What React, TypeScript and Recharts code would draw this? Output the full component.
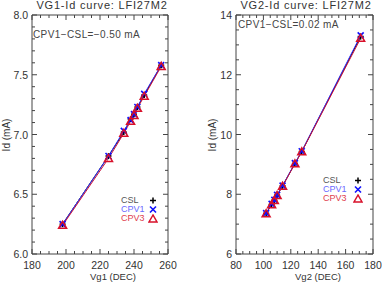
import React from 'react';
import { ComposedChart, Line, XAxis, YAxis, Legend } from 'recharts';

// ---- Left panel data (VG1) ----
const vg1 = [198, 225, 234, 238, 240, 242, 246, 256];
const csl1 = [6.25, 6.82, 7.02, 7.13, 7.17, 7.23, 7.33, 7.58];
const cpv1a = [6.25, 6.82, 7.03, 7.12, 7.17, 7.23, 7.34, 7.58];
const cpv3a = [6.24, 6.8, 7.01, 7.11, 7.16, 7.22, 7.32, 7.57];

// ---- Right panel data (VG2) ----
const vg2 = [102, 106, 108, 110, 114, 123, 128, 171];
const csl2 = [7.36, 7.66, 7.8, 7.97, 8.28, 9.03, 9.43, 13.28];
const cpv1b = [7.37, 7.68, 7.81, 7.98, 8.29, 9.04, 9.44, 13.32];
const cpv3b = [7.35, 7.65, 7.79, 7.96, 8.27, 9.02, 9.42, 13.22];

// ---- Tick labels ----
const xMajor1 = [180, 200, 220, 240, 260];
const yMajor1 = [6.0, 6.5, 7.0, 7.5, 8.0];
const xMajor2 = [80, 100, 120, 140, 160, 180];
const yMajor2 = [6, 8, 10, 12, 14];

const seriesNames = ['CSL', 'CPV1', 'CPV3'];
const seriesLineColors = ['#000000', '#3030ff', '#c8103a'];
const legendTextColors = ['#555555', '#6a6aff', '#e0404f'];

const FONT = '"Liberation Sans", Arial, sans-serif';
const AXIS = '#444444';

const range = (a: number, b: number, step: number) => {
  const out: number[] = [];
  const n = Math.round((b - a) / step);
  for (let i = 0; i <= n; i++) out.push(Math.round((a + i * step) * 1000) / 1000);
  return out;
};

const build = (xs: number[], a: number[], b: number[], c: number[]) =>
  xs.map((x, i) => ({ x, csl: a[i], cpv1: b[i], cpv3: c[i] }));

const isMajor = (majors: number[], v: number) => majors.some((m) => Math.abs(m - v) < 1e-6);

const makeTick = (side: string, majors: number[], fmt: (v: number) => string, label: boolean) =>
  (props: any) => {
    const { x, y, payload } = props;
    const v = payload.value;
    const major = isMajor(majors, v);
    const len = major ? 5 : 3;
    let ln: any = null;
    let txt: any = null;
    if (side === 'bottom') {
      ln = <line x1={x} y1={y} x2={x} y2={y - len} stroke={AXIS} />;
      if (label && major)
        txt = (
          <text x={x} y={y + 14.5} textAnchor="middle" fontSize={10.5} fontFamily={FONT} fill="#333">
            {fmt(v)}
          </text>
        );
    } else if (side === 'top') {
      ln = <line x1={x} y1={y} x2={x} y2={y + len} stroke={AXIS} />;
    } else if (side === 'left') {
      ln = <line x1={x} y1={y} x2={x + len} y2={y} stroke={AXIS} />;
      if (label && major)
        txt = (
          <text x={x - 4} y={y + 4} textAnchor="end" fontSize={10.5} fontFamily={FONT} fill="#333">
            {fmt(v)}
          </text>
        );
    } else {
      ln = <line x1={x} y1={y} x2={x - len} y2={y} stroke={AXIS} />;
    }
    return (
      <g>
        {ln}
        {txt}
      </g>
    );
  };

const PlusDot = (p: any) => {
  const { cx, cy } = p;
  if (cx == null || cy == null) return null;
  return (
    <g>
      <line x1={cx - 3} y1={cy} x2={cx + 3} y2={cy} stroke="#000" strokeWidth={1.5} />
      <line x1={cx} y1={cy - 3} x2={cx} y2={cy + 3} stroke="#000" strokeWidth={1.5} />
    </g>
  );
};
const CrossDot = (p: any) => {
  const { cx, cy } = p;
  if (cx == null || cy == null) return null;
  return (
    <g>
      <line x1={cx - 3} y1={cy - 3} x2={cx + 3} y2={cy + 3} stroke="#1010ff" strokeWidth={1.6} />
      <line x1={cx - 3} y1={cy + 3} x2={cx + 3} y2={cy - 3} stroke="#1010ff" strokeWidth={1.6} />
    </g>
  );
};
const TriDot = (p: any) => {
  const { cx, cy } = p;
  if (cx == null || cy == null) return null;
  return (
    <polygon
      points={`${cx},${cy - 4} ${cx - 4},${cy + 3} ${cx + 4},${cy + 3}`}
      fill="none"
      stroke="#d8102a"
      strokeWidth={1.5}
    />
  );
};
const dots = [PlusDot, CrossDot, TriDot];
const keys = ['csl', 'cpv1', 'cpv3'];

const LegendSym = ({ i }: { i: number }) => {
  const c = 5;
  return (
    <svg width={10} height={9} style={{ display: 'block' }}>
      {i === 0 && <PlusDot cx={c} cy={4.5} />}
      {i === 1 && <CrossDot cx={c} cy={4.5} />}
      {i === 2 && <TriDot cx={c} cy={5} />}
    </svg>
  );
};

const makeLegend = (symGap: number) => () => (
  <div style={{ fontFamily: FONT, fontSize: 9, lineHeight: '9px' }}>
    {seriesNames.map((n, i) => (
      <div key={n} style={{ display: 'flex', alignItems: 'center', height: 9 }}>
        <span style={{ color: legendTextColors[i], width: symGap, display: 'inline-block', lineHeight: '9px' }}>{n}</span>
        <LegendSym i={i} />
      </div>
    ))}
  </div>
);

type PanelProps = {
  data: any[];
  xDomain: [number, number];
  yDomain: [number, number];
  xMajor: number[];
  yMajor: number[];
  xStep: number;
  yStep: number;
  yFmt: (v: number) => string;
  margin: { top: number; bottom: number; left: number; right: number };
  legendPos: { left: number; top: number };
  symGap: number;
};

const Panel = (p: PanelProps) => {
  const xTicks = range(p.xDomain[0], p.xDomain[1], p.xStep);
  const yTicks = range(p.yDomain[0], p.yDomain[1], p.yStep);
  const xf = (v: number) => String(v);
  return (
    <ComposedChart width={191} height={282} data={p.data} margin={p.margin}>
      <XAxis
        xAxisId="b"
        dataKey="x"
        type="number"
        domain={p.xDomain}
        ticks={xTicks}
        interval={0}
        height={1}
        tickSize={0}
        tickMargin={0}
        tickLine={false}
        axisLine={{ stroke: AXIS }}
        tick={makeTick('bottom', p.xMajor, xf, true)}
        allowDataOverflow
      />
      <XAxis
        xAxisId="t"
        orientation="top"
        dataKey="x"
        type="number"
        domain={p.xDomain}
        ticks={xTicks}
        interval={0}
        height={1}
        tickSize={0}
        tickMargin={0}
        tickLine={false}
        axisLine={{ stroke: AXIS }}
        tick={makeTick('top', p.xMajor, xf, false)}
        allowDataOverflow
      />
      <YAxis
        yAxisId="l"
        type="number"
        domain={p.yDomain}
        ticks={yTicks}
        interval={0}
        width={1}
        tickSize={0}
        tickMargin={0}
        tickLine={false}
        axisLine={{ stroke: AXIS }}
        tick={makeTick('left', p.yMajor, p.yFmt, true)}
        allowDataOverflow
      />
      <YAxis
        yAxisId="r"
        orientation="right"
        type="number"
        domain={p.yDomain}
        ticks={yTicks}
        interval={0}
        width={1}
        tickSize={0}
        tickMargin={0}
        tickLine={false}
        axisLine={{ stroke: AXIS }}
        tick={makeTick('right', p.yMajor, p.yFmt, false)}
        allowDataOverflow
      />
      {keys.map((k, i) => (
        <Line
          key={k}
          xAxisId="b"
          yAxisId="l"
          dataKey={k}
          type="linear"
          stroke={seriesLineColors[i]}
          strokeWidth={1}
          dot={dots[i]}
          activeDot={false}
          isAnimationActive={false}
        />
      ))}
      <Legend
        layout="horizontal"
        verticalAlign="middle"
        align="center"
        content={makeLegend(p.symGap)}
        wrapperStyle={{ position: 'absolute', left: p.legendPos.left, top: p.legendPos.top, width: 'auto', height: 'auto' }}
      />
    </ComposedChart>
  );
};

const txt = (s: React.CSSProperties): React.CSSProperties => ({
  position: 'absolute',
  fontFamily: FONT,
  whiteSpace: 'nowrap',
  lineHeight: 1,
  ...s,
});

export default function App() {
  const d1 = build(vg1, csl1, cpv1a, cpv3a);
  const d2 = build(vg2, csl2, cpv1b, cpv3b);
  return (
    <div style={{ position: 'absolute', left: 0, top: 0, width: 382, height: 282, background: '#fff', overflow: 'hidden' }}>
      <div style={{ position: 'absolute', left: 0, top: 0 }}>
        <Panel
          data={d1}
          xDomain={[180, 260]}
          yDomain={[6, 8]}
          xMajor={xMajor1}
          yMajor={yMajor1}
          xStep={5}
          yStep={0.1}
          yFmt={(v) => v.toFixed(1)}
          margin={{ top: 14, bottom: 27, left: 31, right: 22 }}
          legendPos={{ left: 121, top: 196 }}
          symGap={27}
        />
      </div>
      <div style={{ position: 'absolute', left: 191, top: 0 }}>
        <Panel
          data={d2}
          xDomain={[80, 180]}
          yDomain={[6, 14]}
          xMajor={xMajor2}
          yMajor={yMajor2}
          xStep={5}
          yStep={0.5}
          yFmt={(v) => String(v)}
          margin={{ top: 14, bottom: 27, left: 44, right: 8 }}
          legendPos={{ left: 132, top: 176 }}
          symGap={30}
        />
      </div>
      {/* titles */}
      <div style={txt({ left: 102, top: 0, transform: 'translateX(-50%)', fontSize: 11, color: '#333', letterSpacing: 0.8 })}>
        VG1-Id curve: LFI27M2
      </div>
      <div style={txt({ left: 306, top: 0, transform: 'translateX(-50%)', fontSize: 11, color: '#333', letterSpacing: 0.8 })}>
        VG2-Id curve: LFI27M2
      </div>
      {/* annotations */}
      <div style={txt({ left: 33, top: 30, fontSize: 10, color: '#444', letterSpacing: 0.4 })}>CPV1−CSL=−0.50 mA</div>
      <div style={txt({ left: 238, top: 20, fontSize: 10, color: '#444', letterSpacing: 0.4 })}>CPV1−CSL=0.02 mA</div>
      {/* y labels */}
      <div style={txt({ left: 7, top: 135, transform: 'translate(-50%,-50%) rotate(-90deg)', fontSize: 10, color: '#333' })}>
        Id (mA)
      </div>
      <div style={txt({ left: 213, top: 135, transform: 'translate(-50%,-50%) rotate(-90deg)', fontSize: 10, color: '#333' })}>
        Id (mA)
      </div>
      {/* x labels */}
      <div style={txt({ left: 113, top: 272, transform: 'translateX(-50%)', fontSize: 9.5, color: '#333' })}>Vg1 (DEC)</div>
      <div style={txt({ left: 318, top: 272, transform: 'translateX(-50%)', fontSize: 9.5, color: '#333' })}>Vg2 (DEC)</div>
    </div>
  );
}
